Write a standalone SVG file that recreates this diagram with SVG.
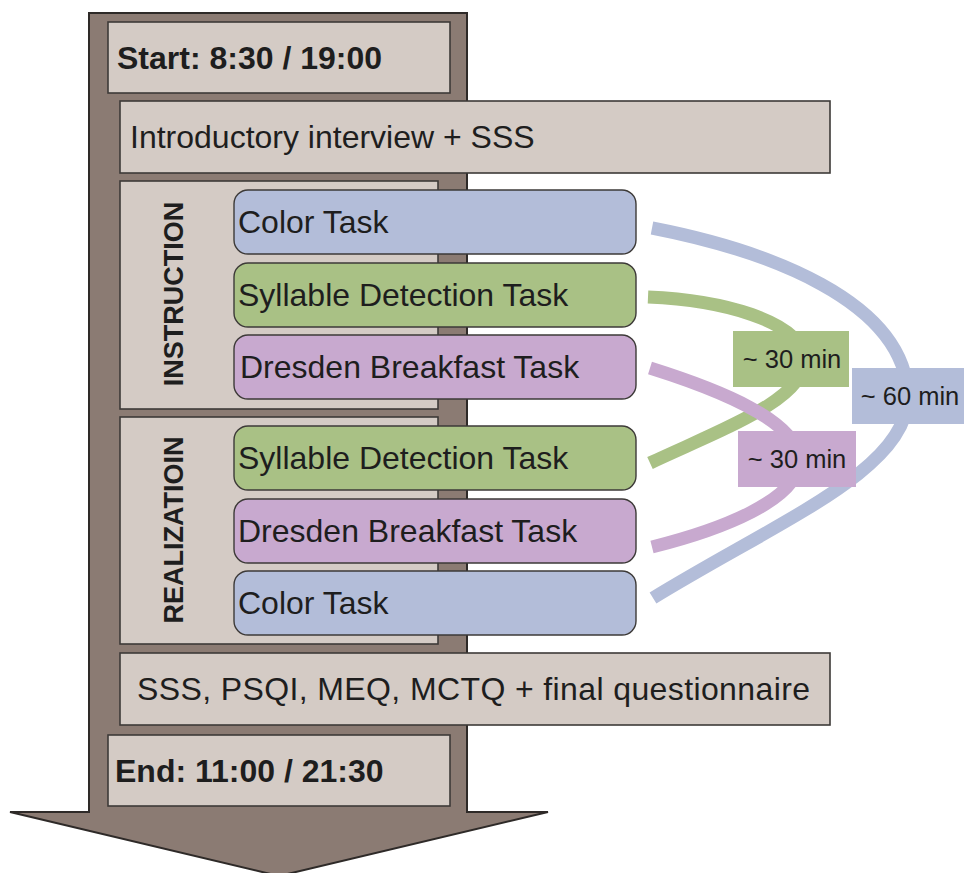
<svg xmlns="http://www.w3.org/2000/svg" width="964" height="873" viewBox="0 0 964 873">
<defs>
<style>
.box{fill:#d4cbc5;stroke:#3d3a38;stroke-width:1.6}
.task{stroke:#3d3a38;stroke-width:1.4}
.blue{fill:#b3bdd9}
.green{fill:#a9c185}
.purple{fill:#c8a9cf}
.t{font-family:"Liberation Sans",Arial,sans-serif;fill:#1e1e1e}
.reg{font-size:32px}
.bold{font-size:32px;font-weight:bold}
.vert{font-size:27px;font-weight:bold;text-anchor:middle}
.lbl{font-size:25.5px;text-anchor:middle}
.curve{fill:none;stroke-width:13}
</style>
</defs>
<rect width="964" height="873" fill="#ffffff"/>
<g id="arrow">
<polygon points="89,13 467,13 467,812 548,812 279,876 10,812 89,812" fill="#8b7b73" stroke="#2e2a28" stroke-width="2"/>
</g>
<g id="start">
<rect class="box" x="108" y="22" width="342" height="71"/>
<text class="t bold" x="117" y="69">Start: 8:30 / 19:00</text>
</g>
<g id="intro">
<rect class="box" x="120" y="101" width="710" height="72"/>
<text class="t reg" x="130" y="148">Introductory interview + SSS</text>
</g>
<g id="instruction">
<rect class="box" x="120" y="181" width="318" height="228"/>
<text class="t vert" transform="translate(183,294) rotate(-90)">INSTRUCTION</text>
</g>
<g id="instr-color">
<rect class="task blue" x="234" y="190" width="402" height="64" rx="14"/>
<text class="t reg" x="238" y="233">Color Task</text>
</g>
<g id="instr-syllable">
<rect class="task green" x="234" y="263" width="402" height="64" rx="14"/>
<text class="t reg" x="238" y="306">Syllable Detection Task</text>
</g>
<g id="instr-dresden">
<rect class="task purple" x="234" y="335" width="402" height="64" rx="14"/>
<text class="t reg" x="240" y="378">Dresden Breakfast Task</text>
</g>
<g id="realization">
<rect class="box" x="120" y="417" width="318" height="227"/>
<text class="t vert" transform="translate(183,530) rotate(-90)">REALIZATIOIN</text>
</g>
<g id="real-syllable">
<rect class="task green" x="234" y="426" width="402" height="64" rx="14"/>
<text class="t reg" x="238" y="469">Syllable Detection Task</text>
</g>
<g id="real-dresden">
<rect class="task purple" x="234" y="499" width="402" height="64" rx="14"/>
<text class="t reg" x="238" y="542">Dresden Breakfast Task</text>
</g>
<g id="real-color">
<rect class="task blue" x="234" y="571" width="402" height="64" rx="14"/>
<text class="t reg" x="238" y="614">Color Task</text>
</g>
<g id="final">
<rect class="box" x="120" y="653" width="710" height="72"/>
<text class="t reg" x="137" y="700" textLength="673" lengthAdjust="spacing">SSS, PSQI, MEQ, MCTQ + final questionnaire</text>
</g>
<g id="end">
<rect class="box" x="108" y="735" width="342" height="71"/>
<text class="t bold" x="115" y="782">End: 11:00 / 21:30</text>
</g>
<g id="connectors">
<path class="curve" stroke="#b3bdd9" d="M652,228 C765,250 905,300 908,396 C908,470 780,520 653,598"/>
<path class="curve" stroke="#a9c185" d="M648,297 C720,300 800,320 805,359 C805,400 720,430 650,463"/>
<path class="curve" stroke="#c8a9cf" d="M650,368 C720,390 795,420 800,459 C800,500 720,530 652,547"/>
</g>
<g id="label-green">
<rect class="green" x="733" y="331" width="116" height="56"/>
<text class="t lbl" x="792" y="368">~ 30 min</text>
</g>
<g id="label-purple">
<rect class="purple" x="738" y="431" width="118" height="56"/>
<text class="t lbl" x="797" y="468">~ 30 min</text>
</g>
<g id="label-blue">
<rect class="blue" x="852" y="368" width="112" height="56"/>
<text class="t lbl" x="910" y="405">~ 60 min</text>
</g>
</svg>
